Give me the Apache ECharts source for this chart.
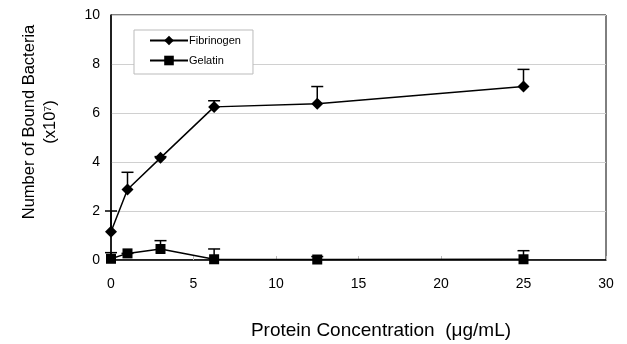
<!DOCTYPE html>
<html>
<head>
<meta charset="utf-8">
<script src="https://cdn.jsdelivr.net/npm/echarts@6/dist/echarts.min.js"></script>
<style>
  html, body { margin: 0; padding: 0; background: #fff; }
  #chart { width: 627px; height: 344px; }
</style>
</head>
<body>
<div id="chart"></div>
<script>
// protein concentration (ug/mL)
const concentrations = [0, 1, 3, 6.25, 12.5, 25];
// bound bacteria (x10^7)
const fibrinogen = [1.15, 2.88, 4.17, 6.25, 6.38, 7.08];
const fibrinogenErr = [0.85, 0.7, 0.05, 0.25, 0.7, 0.7];
const gelatin = [0.05, 0.27, 0.45, 0.03, 0.02, 0.03];
const gelatinErr = [0.25, 0.0, 0.34, 0.42, 0.12, 0.35];

const xTicks = [0, 5, 10, 15, 20, 25, 30];
const yTicks = [0, 2, 4, 6, 8, 10];

const font = 'Liberation Sans, Arial, sans-serif';

function pairs(xs, ys) {
  return xs.map((x, i) => [x, ys[i]]);
}

// upward error bar with cap
function errorSeries(values, errs) {
  return {
    type: 'custom',
    silent: true,
    z: 1,
    data: concentrations.map((x, i) => [x, values[i], values[i] + errs[i]]),
    renderItem: (params, api) => {
      const base = api.coord([api.value(0), api.value(1)]);
      const top = api.coord([api.value(0), api.value(2)]);
      const style = { stroke: '#000', lineWidth: 1.5 };
      return {
        type: 'group',
        children: [
          { type: 'line', shape: { x1: base[0], y1: base[1], x2: top[0], y2: top[1] }, style },
          { type: 'line', shape: { x1: top[0] - 6, y1: top[1], x2: top[0] + 6, y2: top[1] }, style },
        ],
      };
    },
  };
}

const chart = echarts.init(document.getElementById('chart'));

chart.setOption({
  animation: false,
  textStyle: { fontFamily: font },
  grid: {
    left: 111,
    right: 21,
    top: 15,
    bottom: 84,
    show: true,
    borderColor: '#000',
    borderWidth: 1,
  },
  legend: {
    left: 134,
    top: 30,
    orient: 'vertical',
    data: ['Fibrinogen', 'Gelatin'],
    backgroundColor: '#fff',
    borderColor: '#bbb',
    borderWidth: 1,
    padding: [5, 12, 8, 15],
    itemGap: 9,
    itemWidth: 38,
    itemHeight: 12,
    textStyle: { fontFamily: font, fontSize: 11, color: '#000', padding: [0, 0, 0, -4] },
  },
  xAxis: {
    type: 'value',
    min: xTicks[0],
    max: xTicks[xTicks.length - 1],
    interval: 5,
    axisLine: { lineStyle: { color: '#000', width: 1.5 } },
    axisTick: { show: true, inside: true, length: 4, lineStyle: { color: '#bbb' } },
    axisLabel: { color: '#000', fontSize: 14, margin: 17, fontFamily: font },
    splitLine: { show: false },
  },
  yAxis: {
    type: 'value',
    min: yTicks[0],
    max: yTicks[yTicks.length - 1],
    interval: 2,
    axisLine: { show: true, lineStyle: { color: '#000', width: 1.5 } },
    axisTick: { show: false },
    axisLabel: { color: '#000', fontSize: 14, margin: 11, fontFamily: font },
    splitLine: { lineStyle: { color: '#d0d0d0', width: 1 } },
  },
  graphic: [
    {
      type: 'text',
      x: 40,
      y: 122,
      rotation: Math.PI / 2,
      style: {
        text: 'Number of Bound Bacteria\n(x10⁷)',
        font: '16.5px ' + font,
        fill: '#000',
        align: 'center',
        verticalAlign: 'middle',
        lineHeight: 21,
      },
    },
    {
      type: 'text',
      x: 381,
      y: 331,
      style: {
        text: 'Protein Concentration  (μg/mL)',
        font: '19px ' + font,
        fill: '#000',
        align: 'center',
        verticalAlign: 'middle',
      },
    },
  ],
  series: [
    errorSeries(fibrinogen, fibrinogenErr),
    errorSeries(gelatin, gelatinErr),
    {
      name: 'Fibrinogen',
      type: 'line',
      z: 3,
      data: pairs(concentrations, fibrinogen),
      symbol: 'diamond',
      symbolSize: 12,
      itemStyle: { color: '#000' },
      lineStyle: { color: '#000', width: 1.5 },
    },
    {
      name: 'Gelatin',
      type: 'line',
      z: 3,
      data: pairs(concentrations, gelatin),
      symbol: 'rect',
      symbolSize: 10,
      itemStyle: { color: '#000' },
      lineStyle: { color: '#000', width: 1.5 },
    },
  ],
});
</script>
</body>
</html>
